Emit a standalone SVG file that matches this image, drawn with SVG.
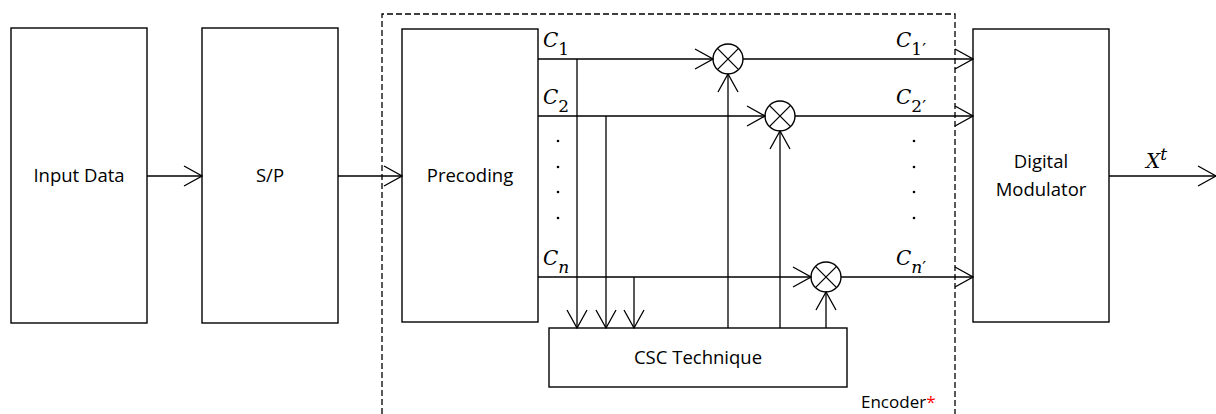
<svg xmlns="http://www.w3.org/2000/svg" width="1216" height="414" viewBox="0 0 1216 414">
<style>
.box{fill:#fff;stroke:#000;stroke-width:1.4}
.ln{fill:none;stroke:#000;stroke-width:1.3}
.arr{fill:none;stroke:#000;stroke-width:1.3;marker-end:url(#ah)}
.t{font-family:"Open Sans","Liberation Sans",Arial,sans-serif;font-size:18.5px;fill:#000;text-anchor:middle}
.m{font-family:"DejaVu Serif","Liberation Serif",serif;font-style:italic;font-size:20px;fill:#000}
.s{font-family:"DejaVu Serif","Liberation Serif",serif;font-size:17px;fill:#000}
.dot{fill:#000}
</style>
<defs>
<marker id="ah" viewBox="0 0 20 22" refX="19" refY="11" markerWidth="20" markerHeight="22" markerUnits="userSpaceOnUse" orient="auto">
<path d="M1,1 L19,11 L1,21" fill="none" stroke="#000" stroke-width="1.3"/>
</marker>
</defs>
<rect width="1216" height="414" fill="#fff"/>
<g id="encoder">
<path d="M382,414 V14 H955 V414" fill="none" stroke="#000" stroke-width="1.3" stroke-dasharray="6,3"/>
<text x="861" y="408" font-family="Open Sans,Liberation Sans,Arial,sans-serif" font-size="17">Encoder<tspan fill="#ff0000">*</tspan></text>
</g>
<g id="input-data"><rect class="box" x="11" y="28" width="136" height="295"/><text class="t" x="79" y="182">Input Data</text></g>
<g id="sp"><rect class="box" x="202" y="28" width="136" height="295"/><text class="t" x="270" y="182">S/P</text></g>
<g id="precoding"><rect class="box" x="402" y="29" width="136" height="293"/><text class="t" x="470" y="182">Precoding</text></g>
<g id="digital-modulator"><rect class="box" x="973" y="29" width="136" height="293"/><text class="t" x="1041" y="168">Digital</text><text class="t" x="1041" y="196">Modulator</text></g>
<g id="csc"><rect class="box" x="549" y="328" width="298" height="59"/><text class="t" x="698" y="364">CSC Technique</text></g>
<g id="mult1"><circle class="box" cx="728" cy="59" r="15"/><path class="ln" d="M717.4,48.4 L738.6,69.6 M738.6,48.4 L717.4,69.6"/></g>
<g id="mult2"><circle class="box" cx="780" cy="116" r="15"/><path class="ln" d="M769.4,105.4 L790.6,126.6 M790.6,105.4 L769.4,126.6"/></g>
<g id="mult3"><circle class="box" cx="826" cy="277" r="15"/><path class="ln" d="M815.4,266.4 L836.6,287.6 M836.6,266.4 L815.4,287.6"/></g>
<g id="connectors">
<line class="arr" x1="147" y1="176" x2="202" y2="176"/>
<line class="arr" x1="338" y1="176" x2="402" y2="176"/>
<line class="arr" x1="538" y1="59" x2="713" y2="59"/>
<line class="arr" x1="538" y1="116" x2="765" y2="116"/>
<line class="arr" x1="538" y1="277" x2="811" y2="277"/>
<line class="arr" x1="743" y1="59" x2="973" y2="59"/>
<line class="arr" x1="795" y1="116" x2="973" y2="116"/>
<line class="arr" x1="841" y1="277" x2="973" y2="277"/>
<line class="arr" x1="577" y1="59" x2="577" y2="328"/>
<line class="arr" x1="606" y1="116" x2="606" y2="328"/>
<line class="arr" x1="634" y1="277" x2="634" y2="328"/>
<line class="arr" x1="728" y1="328" x2="728" y2="74"/>
<line class="arr" x1="780" y1="328" x2="780" y2="131"/>
<line class="arr" x1="826" y1="328" x2="826" y2="292"/>
<line class="arr" x1="1109" y1="176" x2="1216" y2="176"/>
</g>
<g id="labels">
<text class="m" x="543" y="47">C<tspan class="s" dy="8" font-style="normal">1</tspan></text>
<text class="m" x="543" y="104">C<tspan class="s" dy="8" font-style="normal">2</tspan></text>
<text class="m" x="543" y="265">C<tspan class="s" dy="8" font-style="italic">n</tspan></text>
<text class="m" x="896" y="47">C<tspan class="s" dy="8" font-style="normal">1′</tspan></text>
<text class="m" x="896" y="104">C<tspan class="s" dy="8" font-style="normal">2′</tspan></text>
<text class="m" x="896" y="265">C<tspan class="s" dy="8" font-style="italic">n</tspan><tspan class="s" font-style="normal">′</tspan></text>
<text class="m" x="1146" y="168">X<tspan class="s" dy="-8" font-style="italic" font-size="13">t</tspan></text>
<circle class="dot" cx="558" cy="141" r="1.3"/><circle class="dot" cx="558" cy="167" r="1.3"/><circle class="dot" cx="558" cy="192" r="1.3"/><circle class="dot" cx="558" cy="218" r="1.3"/>
<circle class="dot" cx="914" cy="141" r="1.3"/><circle class="dot" cx="914" cy="167" r="1.3"/><circle class="dot" cx="914" cy="192" r="1.3"/><circle class="dot" cx="914" cy="218" r="1.3"/>
</g>
</svg>
